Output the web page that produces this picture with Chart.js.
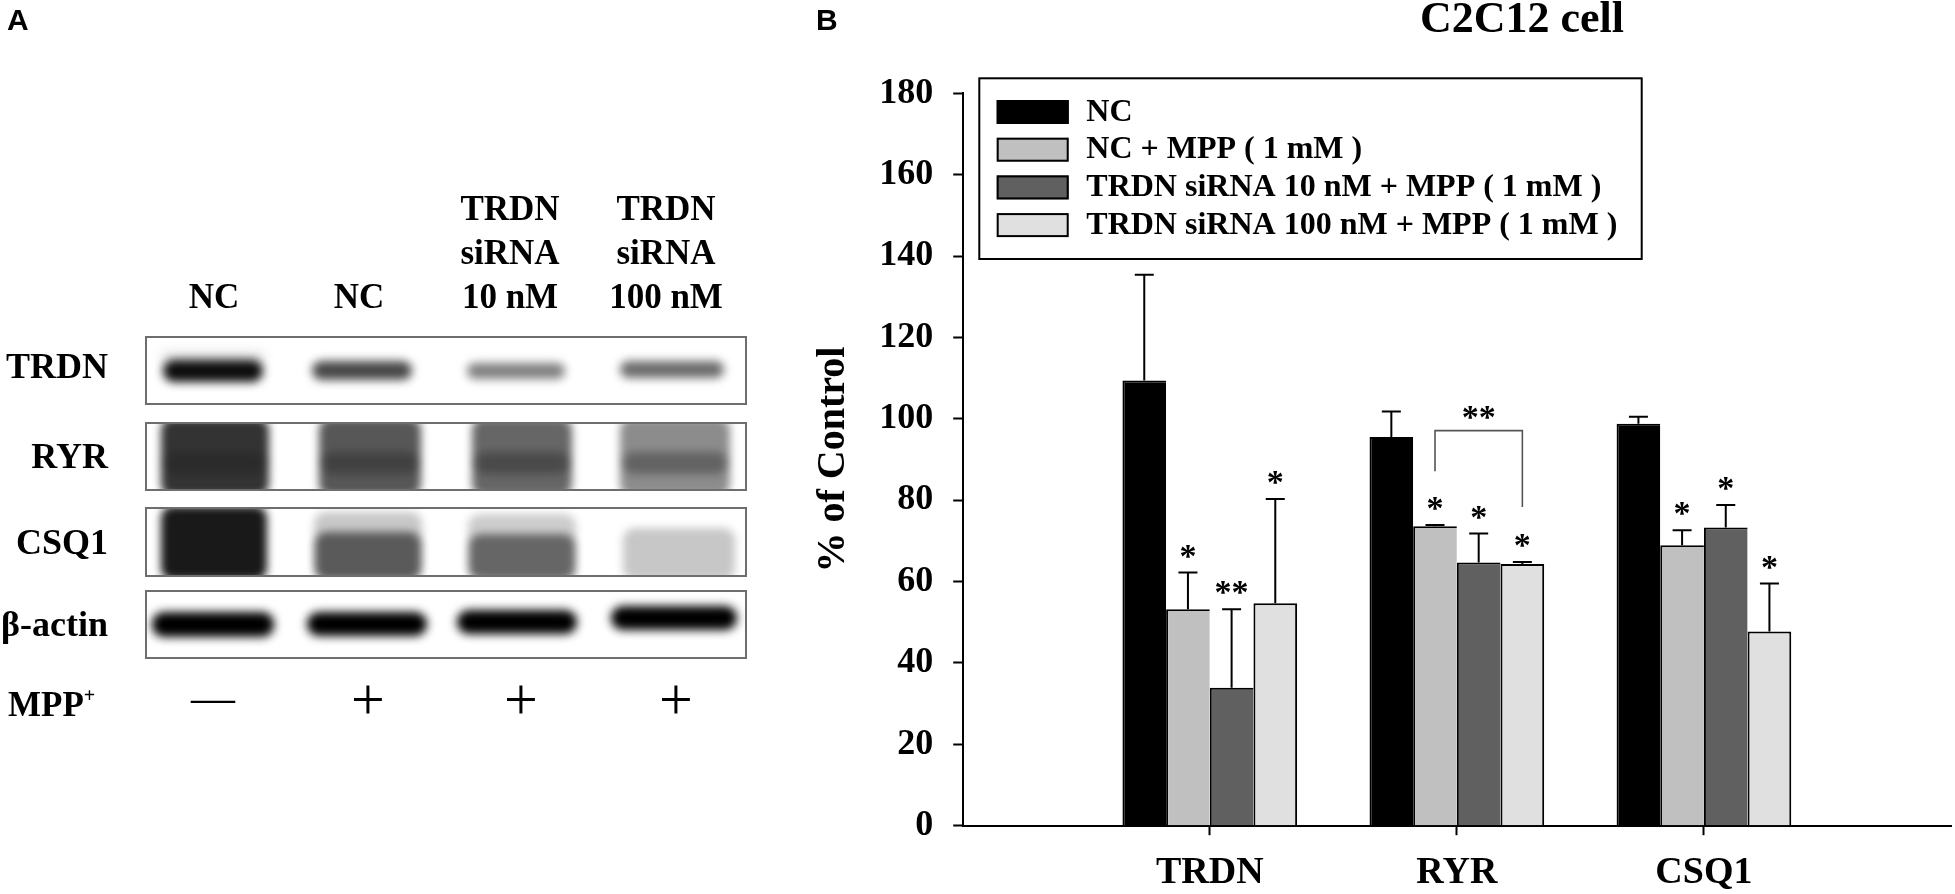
<!DOCTYPE html>
<html>
<head>
<meta charset="utf-8">
<script src="https://cdn.jsdelivr.net/npm/chart.js@4.4.1/dist/chart.umd.min.js"></script>
<style>
  html, body { margin: 0; padding: 0; background: #fff; }
  #page { position: relative; width: 1955px; height: 894px; overflow: hidden; }
  #blot, #chart { position: absolute; left: 0; top: 0; }
  .txt { position: absolute; white-space: nowrap; line-height: 1; color: #000;
         font-family: "Liberation Serif", "Times New Roman", serif; font-weight: bold; }
  .sans { font-family: "Liberation Sans", Arial, sans-serif; }
  .thin { font-weight: normal; }
</style>
</head>
<body>
<div id="page">
  <canvas id="blot" width="1955" height="894"></canvas>
  <canvas id="chart" width="1955" height="894"></canvas>
</div>
<script>
// ---------- data ----------
const categories = ['TRDN', 'RYR', 'CSQ1'];
const seriesNames = ['NC', 'NC + MPP ( 1 mM )', 'TRDN siRNA 10 nM + MPP ( 1 mM )', 'TRDN siRNA 100 nM + MPP ( 1 mM )'];

const ncValues    = [109.4, 95.5, 98.8];
const mppValues   = [53.2, 73.6, 68.9];
const si10Values  = [33.9, 64.7, 73.3];
const si100Values = [54.7, 64.3, 47.7];

const ncErr    = [26.0, 6.3, 1.7];
const mppErr   = [9.0, 0.3, 3.7];
const si10Err  = [19.3, 7.1, 5.5];
const si100Err = [25.6, 0.5, 11.8];

const ncSig    = ['', '', ''];
const mppSig   = ['*', '*', '*'];
const si10Sig  = ['**', '*', '*'];
const si100Sig = ['*', '*', '*'];

const yTicks = [0, 20, 40, 60, 80, 100, 120, 140, 160, 180];

// bracket between NC+MPP and siRNA 100 nM in RYR (in % of control)
const bracketCategory = 'RYR';
const bracketSeries = [1, 3];
const bracketLevels = [87.1, 97.1, 78.3]; // left end, top, right end
const bracketMark = '**';

// panel A labels
const laneLabels = [['NC'], ['NC'], ['TRDN', 'siRNA', '10 nM'], ['TRDN', 'siRNA', '100 nM']];
const mppSigns = ['\u2014', '+', '+', '+'];
const rowLabels = ['TRDN', 'RYR', 'CSQ1', '\u03b2-actin'];

// ---------- styles ----------
const SERIF = '"Liberation Serif", "Times New Roman", serif';
const fills = ['#000000', '#c0c0c0', '#606060', '#e0e0e0'];
const page = document.getElementById('page');

function addText(text, x, baseline, size, align, cls) {
  const d = document.createElement('div');
  d.className = 'txt' + (cls ? ' ' + cls : '');
  d.style.fontSize = size + 'px';
  const asc = (cls && cls.indexOf('sans') >= 0) ? 0.8465 : 0.8375;
  d.style.left = x + 'px';
  d.style.top = (baseline - asc * size) + 'px';
  if (align === 'center') d.style.transform = 'translateX(-50%)';
  if (align === 'right') d.style.transform = 'translateX(-100%)';
  d.innerHTML = text;
  page.appendChild(d);
}

// ---------- panel A : western blot ----------
addText('A', 7, 30, 30, 'left', 'sans');
addText('B', 816, 30, 30, 'left', 'sans');

const laneX = [213, 366, 519, 674];
const labelX = [214, 359, 510, 666];
laneLabels.forEach((lines, i) => {
  const base = 308 - (lines.length - 1) * 44;
  lines.forEach((t, k) => addText(t, labelX[i], base + k * 44, 35, 'center'));
});

const boxes = [[337, 404], [423, 490], [508, 576], [591, 658]];
const rowBase = [378, 468, 554, 636];
rowLabels.forEach((t, i) => addText(t, 108, rowBase[i], 36, 'right'));

addText('MPP<sup style="font-size:20px;vertical-align:14px">+</sup>', 8, 714, 35, 'left');
mppSigns.forEach((s, i) => {
  if (i === 0) addText(s, laneX[i], 713, 44, 'center', 'thin');
  else addText(s, laneX[i] + 2, 719, 60, 'center', 'thin');
});

(function drawBlot() {
  const ctx = document.getElementById('blot').getContext('2d');
  const L = 146, R = 746;
  function band(b, cx, y0, y1, w, a, blur) {
    ctx.save();
    ctx.beginPath();
    ctx.rect(L + 1, boxes[b][0] + 1, R - L - 2, boxes[b][1] - boxes[b][0] - 2);
    ctx.clip();
    ctx.filter = 'blur(' + blur + 'px)';
    ctx.fillStyle = 'rgba(0,0,0,' + a + ')';
    ctx.beginPath();
    ctx.roundRect(cx - w / 2, y0, w, y1 - y0, Math.min(12, (y1 - y0) / 2));
    ctx.fill();
    ctx.restore();
  }
  // TRDN
  band(0, 213, 352, 366, 104, 0.12, 6);
  band(0, 213, 360, 382, 100, 0.95, 5);
  band(0, 362, 361, 380, 100, 0.72, 5);
  band(0, 516, 363, 379, 98, 0.5, 5);
  band(0, 672, 361, 378, 104, 0.58, 5);
  // RYR
  const ryr = [[215, 108, 0.8, 0.97], [370, 102, 0.66, 0.92], [522, 100, 0.6, 0.88], [675, 110, 0.45, 0.75]];
  ryr.forEach(r => { band(1, r[0], 418, 496, r[1], r[2], 4); band(1, r[0], 452, 474, r[1] - 6, r[3] - r[2], 5); });
  // CSQ1
  band(2, 214, 506, 580, 106, 0.9, 4);
  band(2, 368, 512, 580, 108, 0.22, 4);
  band(2, 368, 532, 580, 106, 0.55, 4);
  band(2, 522, 514, 580, 108, 0.2, 4);
  band(2, 522, 534, 580, 106, 0.5, 4);
  band(2, 679, 528, 580, 112, 0.22, 4);
  // beta-actin
  band(3, 213, 612, 637, 122, 1.0, 5);
  band(3, 367, 612, 636, 120, 1.0, 5);
  band(3, 517, 610, 634, 120, 1.0, 5);
  band(3, 674, 606, 630, 126, 1.0, 5);
  // frames
  ctx.strokeStyle = '#6e6e6e';
  ctx.lineWidth = 2;
  boxes.forEach(b => ctx.strokeRect(L, b[0], R - L, b[1] - b[0]));
})();

// ---------- panel B : bar chart ----------
addText('C2C12 cell', 1522, 33, 44, 'center');

const seriesValues = [ncValues, mppValues, si10Values, si100Values];
const seriesErr = [ncErr, mppErr, si10Err, si100Err];
const seriesSig = [ncSig, mppSig, si10Sig, si100Sig];

// empty slots at both ends so the three groups sit at 1/4, 2/4, 3/4 of the axis
const labels = [''].concat(categories, ['']);

const datasets = seriesNames.map((name, i) => ({
  label: name,
  data: [null].concat(seriesValues[i], [null]),
  err: seriesErr[i],
  sig: seriesSig[i],
  backgroundColor: fills[i],
  borderColor: '#000',
  borderWidth: i === 3 ? { top: 2, left: 2, right: 2, bottom: 0 } : { top: 2, left: 2, right: 0, bottom: 0 },
  categoryPercentage: 0.707,
  barPercentage: 1.0
}));

const errorBars = {
  id: 'errorBars',
  afterDatasetsDraw(chart) {
    const ctx = chart.ctx, y = chart.scales.y;
    ctx.save();
    ctx.strokeStyle = '#000';
    ctx.fillStyle = '#000';
    ctx.lineWidth = 2;
    ctx.font = 'bold 34px ' + SERIF;
    ctx.textAlign = 'center';
    ctx.textBaseline = 'alphabetic';
    chart.data.datasets.forEach((ds, di) => {
      chart.getDatasetMeta(di).data.forEach((bar, j) => {
        const v = ds.data[j];
        if (v == null) return;
        const k = j - 1;
        const top = y.getPixelForValue(v + ds.err[k]);
        ctx.beginPath();
        ctx.moveTo(bar.x, bar.y);
        ctx.lineTo(bar.x, top);
        ctx.moveTo(bar.x - 9.5, top);
        ctx.lineTo(bar.x + 9.5, top);
        ctx.stroke();
        if (ds.sig[k]) ctx.fillText(ds.sig[k], bar.x, top - 6);
      });
    });
    // significance bracket
    const idx = labels.indexOf(bracketCategory);
    const x1 = chart.getDatasetMeta(bracketSeries[0]).data[idx].x;
    const x2 = chart.getDatasetMeta(bracketSeries[1]).data[idx].x;
    const yt = y.getPixelForValue(bracketLevels[1]);
    ctx.strokeStyle = '#555';
    ctx.lineWidth = 1.6;
    ctx.beginPath();
    ctx.moveTo(x1, y.getPixelForValue(bracketLevels[0]));
    ctx.lineTo(x1, yt);
    ctx.lineTo(x2, yt);
    ctx.lineTo(x2, y.getPixelForValue(bracketLevels[2]));
    ctx.stroke();
    ctx.fillText(bracketMark, (x1 + x2) / 2, yt - 3);
    ctx.restore();
  }
};

const boxLegend = {
  id: 'boxLegend',
  afterDraw(chart) {
    const ctx = chart.ctx, a = chart.chartArea;
    const left = a.left + 16.6, top = a.top - 15, right = 1641.7, bottom = a.top + 165.7;
    ctx.save();
    ctx.strokeStyle = '#000';
    ctx.lineWidth = 2;
    ctx.strokeRect(left, top, right - left, bottom - top);
    ctx.font = 'bold 32px ' + SERIF;
    ctx.textBaseline = 'middle';
    ctx.textAlign = 'left';
    chart.data.datasets.forEach((ds, i) => {
      const sy = top + 21.7 + i * 37.7;
      ctx.fillStyle = ds.backgroundColor;
      ctx.fillRect(left + 17.4, sy, 72, 24);
      ctx.strokeRect(left + 18.4, sy + 1, 70, 22);
      ctx.fillStyle = '#000';
      ctx.fillText(ds.label, left + 107, sy + 12.5);
    });
    ctx.restore();
  }
};

Chart.defaults.font.family = SERIF;
Chart.defaults.color = '#000';

new Chart(document.getElementById('chart'), {
  type: 'bar',
  data: { labels: labels, datasets: datasets },
  plugins: [errorBars, boxLegend],
  options: {
    responsive: false,
    animation: false,
    layout: { padding: { left: 780, top: 93.3, right: 4, bottom: 0 } },
    plugins: { legend: { display: false }, tooltip: { enabled: false } },
    scales: {
      x: {
        offset: false,
        grid: {
          offset: false, drawOnChartArea: false, drawTicks: true, tickLength: 9.5, tickWidth: 2,
          tickColor: c => (c.tick && c.tick.label) ? '#000' : 'rgba(0,0,0,0)'
        },
        border: { display: true, color: '#000', width: 2 },
        ticks: { autoSkip: false, maxRotation: 0, padding: 15, font: { size: 38, weight: 'bold' } },
        afterFit: s => { s.height = 68.3; s.paddingLeft = 0; s.paddingRight = 0; }
      },
      y: {
        min: 0, max: 180,
        afterBuildTicks: s => { s.ticks = yTicks.map(v => ({ value: v })); },
        grid: { drawOnChartArea: false, drawTicks: true, tickLength: 9.5, tickWidth: 2, tickColor: '#000' },
        border: { display: true, color: '#000', width: 2 },
        ticks: { padding: 20, font: { size: 36, weight: 'bold' } },
        title: { display: true, text: '% of Control', font: { size: 40, weight: 'bold' }, padding: { top: 30, bottom: 0 } },
        afterFit: s => { s.width = 182.7; s.paddingTop = 0; s.paddingBottom = 0; }
      }
    }
  }
});
</script>
</body>
</html>
